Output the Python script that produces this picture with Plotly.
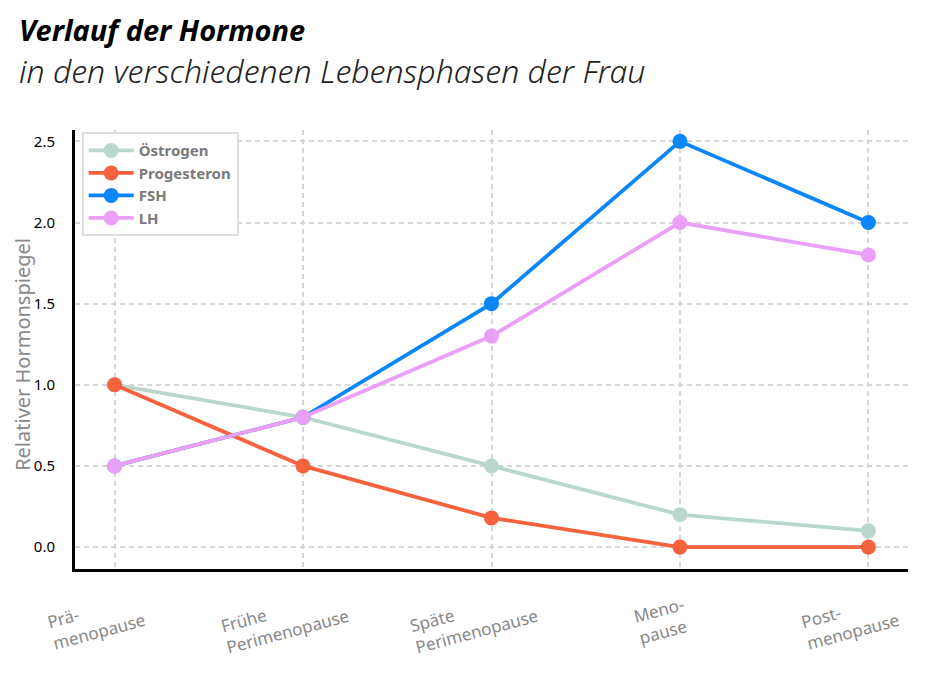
import plotly.graph_objects as go

# Lebensphasen (x-Achse)
phasen = ['Prä-<br>menopause', 'Frühe<br>Perimenopause', 'Späte<br>Perimenopause',
          'Meno-<br>pause', 'Post-<br>menopause']

# relative Hormonspiegel
oestrogen = [1.0, 0.8, 0.5, 0.2, 0.1]
progesteron = [1.0, 0.5, 0.18, 0.0, 0.0]
fsh = [0.5, 0.8, 1.5, 2.5, 2.0]
lh = [0.5, 0.8, 1.3, 2.0, 1.8]

serien = [
    ('Östrogen', oestrogen, '#b9d8cb'),
    ('Progesteron', progesteron, '#f5623d'),
    ('FSH', fsh, '#0a86fb'),
    ('LH', lh, '#eaa0f8'),
]

FONT = 'Noto Sans, DejaVu Sans, sans-serif'
GRID = '#d6d6d6'

fig = go.Figure()
x = list(range(len(phasen)))
for name, werte, farbe in serien:
    fig.add_trace(go.Scatter(
        x=x, y=werte, name=name, mode='lines+markers',
        line=dict(color=farbe, width=3.8),
        marker=dict(color=farbe, size=15),
    ))

# Seite hat 8px body-Rand -> Figur etwas kleiner
fig.update_layout(
    width=926, height=666,
    plot_bgcolor='white', paper_bgcolor='white',
    margin=dict(l=67, r=26, t=122, b=105),
    font=dict(family=FONT),
    legend=dict(
        x=0.008, y=0.995, xanchor='left', yanchor='top',
        bordercolor='#dddddd', borderwidth=2, bgcolor='white',
        font=dict(size=15, color='#7a7a7a', family=FONT, weight='bold'),
        itemwidth=45, tracegroupgap=0,
    ),
    showlegend=True,
)

# Titel und Untertitel
fig.add_annotation(
    text='<b><i>Verlauf der Hormone</i></b>', xref='paper', yref='paper',
    x=-0.07, y=1.228, xanchor='left', yanchor='middle', showarrow=False,
    font=dict(size=29, color='black'),
)
fig.add_annotation(
    text='<i>in den verschiedenen Lebensphasen der Frau</i>', xref='paper', yref='paper',
    x=-0.07, y=1.135, xanchor='left', yanchor='middle', showarrow=False,
    font=dict(size=32, color='#222222', weight=300),
)

# y-Achsentitel
fig.add_annotation(
    text='Relativer Hormonspiegel', xref='paper', yref='paper',
    x=-0.063, y=0.489, xanchor='center', yanchor='middle', showarrow=False,
    textangle=-90, font=dict(size=20, color='#888888'),
)

# x-Beschriftungen, schräg
for i, label in enumerate(phasen):
    fig.add_annotation(
        text=label, x=i, xref='x', y=-0.118, yref='paper', align='left',
        xanchor='center', yanchor='middle', showarrow=False, textangle=-15,
        xshift=-18, font=dict(size=17, color='#888888'),
    )

fig.update_xaxes(
    range=[-0.21, 4.21], tickvals=x, showticklabels=False,
    showgrid=True, gridcolor=GRID, griddash='5px,4px', gridwidth=1.5,
    showline=True, linecolor='black', linewidth=3,
    ticks='', zeroline=False, automargin=False,
)
fig.update_yaxes(
    range=[-0.135, 2.57], tickvals=[0, 0.5, 1.0, 1.5, 2.0, 2.5],
    ticktext=['0.0', '0.5', '1.0', '1.5', '2.0', '2.5'],
    showgrid=True, gridcolor=GRID, griddash='5px,4px', gridwidth=1.5,
    showline=True, linecolor='black', linewidth=3,
    tickfont=dict(size=15, color='black'), ticks='', zeroline=False,
    automargin=False, ticklabelstandoff=14,
)

fig.write_html('out.html')
